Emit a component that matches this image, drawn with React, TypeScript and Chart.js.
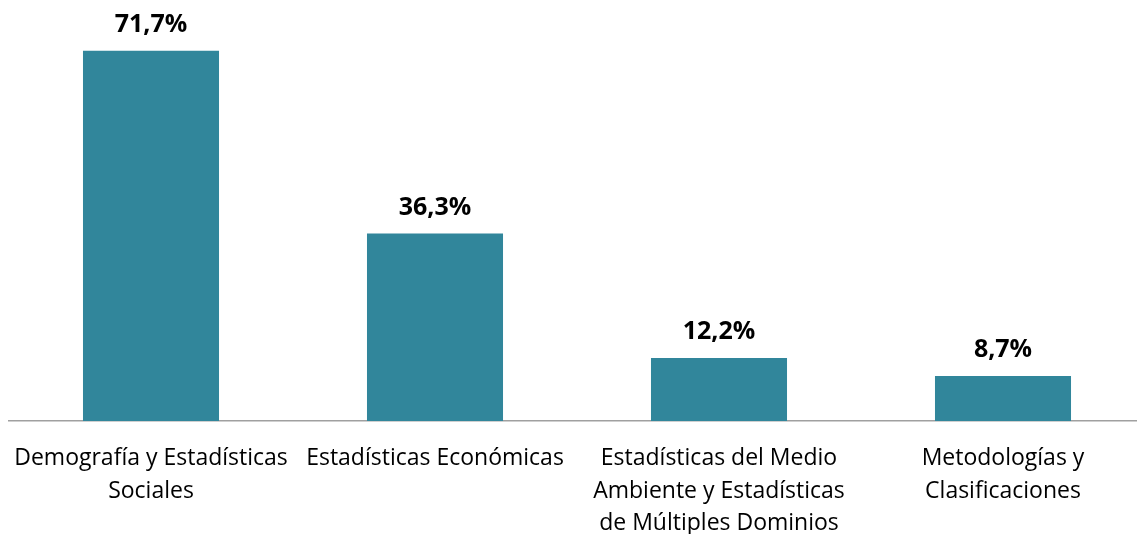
import React, { useEffect, useRef } from "react";
import { Chart, registerables } from "chart.js";

Chart.register(...registerables);

const categories: string[][] = [
  ["Demografía y Estadísticas", "Sociales"],
  ["Estadísticas Económicas"],
  ["Estadísticas del Medio", "Ambiente y Estadísticas", "de Múltiples Dominios"],
  ["Metodologías y", "Clasificaciones"],
];
const values: number[] = [71.7, 36.3, 12.2, 8.7];
const valueLabels: string[] = ["71,7%", "36,3%", "12,2%", "8,7%"];

const FONT = "'Open Sans', Lato, sans-serif";

const valueLabelPlugin = {
  id: "valueLabels",
  afterDatasetsDraw(chart: any) {
    const { ctx } = chart;
    const meta = chart.getDatasetMeta(0);
    ctx.save();
    ctx.font = `bold 25px ${FONT}`;
    ctx.fillStyle = "#000000";
    ctx.textAlign = "center";
    ctx.textBaseline = "alphabetic";
    meta.data.forEach((bar: any, i: number) => {
      ctx.fillText(valueLabels[i], bar.x, bar.y - 19);
    });
    ctx.restore();
  },
};

export default function App() {
  const ref = useRef<HTMLCanvasElement | null>(null);
  useEffect(() => {
    document.body.style.margin = "0";
    if (!ref.current) return;
    const chart = new Chart(ref.current, {
      type: "bar",
      data: {
        labels: categories,
        datasets: [
          {
            data: values,
            backgroundColor: "#31869B",
            borderWidth: 0,
            barPercentage: 0.479,
            categoryPercentage: 1,
          },
        ],
      },
      options: {
        animation: false,
        responsive: false,
        layout: { padding: { left: 9, right: 0, top: 8, bottom: 0 } },
        plugins: {
          legend: { display: false },
          tooltip: { enabled: false },
        },
        scales: {
          x: {
            grid: { display: false, drawTicks: false },
            border: { display: true, color: "#A0A0A0", width: 1.5 },
            ticks: {
              color: "#000000",
              padding: 21,
              maxRotation: 0,
              autoSkip: false,
              font: { family: FONT, size: 23, lineHeight: 1.42 },
            },
            afterFit(scale: any) {
              scale.height = 113;
              scale.paddingLeft = 0;
              scale.paddingRight = 0;
            },
          },
          y: {
            display: false,
            min: 0,
            max: 80,
          },
        },
      },
      plugins: [valueLabelPlugin],
    });
    return () => chart.destroy();
  }, []);
  return (
    <div style={{ width: 1137, height: 534, overflow: "hidden", position: "relative" }}>
      <canvas ref={ref} width={1145} height={534} style={{ display: "block" }} />
    </div>
  );
}
